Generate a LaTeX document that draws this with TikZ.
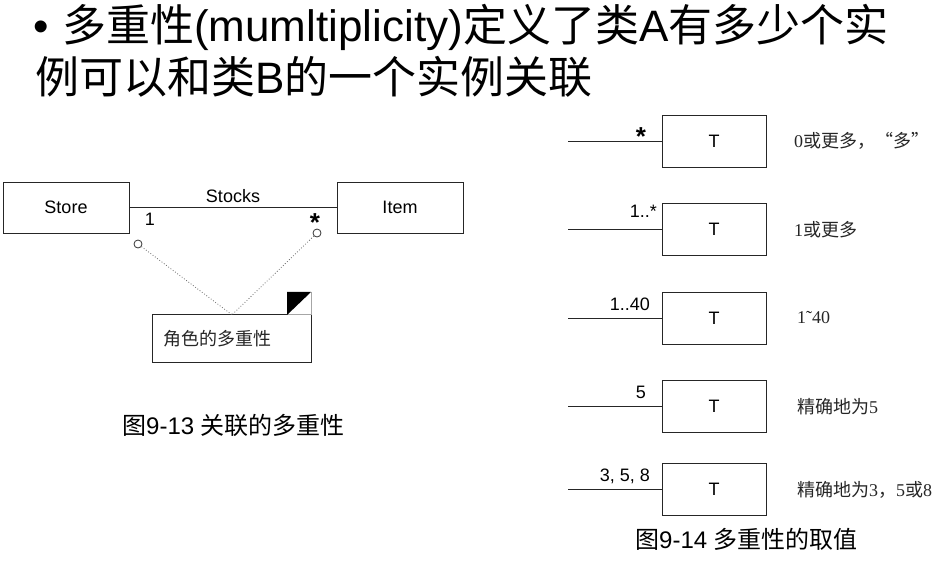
\documentclass[tikz,border=0pt]{standalone}
\usepackage{fontspec}
\setmainfont{Liberation Sans}
\newfontfamily\cjk{Noto Sans CJK SC}
\newfontfamily\serifdigits{Liberation Serif}
\usetikzlibrary{calc}
\newcommand\fsz[1]{\fontsize{#1}{#1}\selectfont}
\tikzset{
  umlbox/.style={draw=black!85, line width=1, inner sep=0, font=\fsz{18}},
  conn/.style={draw=black!85, line width=1},
  lbl/.style={inner sep=0, font=\fsz{18}},
  bigstar/.style={inner sep=0, font=\fsz{26}\bfseries},
  desc/.style={anchor=west, inner sep=0, font=\fsz{18}\serifdigits, text=black!85},
  figcaption/.style={anchor=west, inner sep=0, font=\fsz{24}},
  titletext/.style={anchor=base west, inner sep=0, font=\fsz{44}},
  tbox/.style={umlbox, minimum width=104, minimum height=52},
  rolecirc/.style={circle, draw=black!80, line width=0.8, minimum size=8, inner sep=0},
}
\begin{document}
\begin{tikzpicture}[x=1pt,y=-1pt]
\useasboundingbox (0,0) rectangle (951,563);
% title
\node[titletext] (bullet) at (33,41) {•};
\node[titletext] (t1) at (62,41) {{\cjk 多重性}(mumltiplicity){\cjk 定义了类}A{\cjk 有多少个实}};
\node[titletext] (t2) at (35,93) {{\cjk 例可以和类}B{\cjk 的一个实例关联}};

% left diagram
\node[umlbox, minimum width=126, minimum height=51] (store) at (66,207.5) {Store};
\node[umlbox, minimum width=126, minimum height=51] (item) at (400,207.5) {Item};
\draw[conn] (store) -- node[above=4, inner sep=0, font=\fsz{18}] (stocks) {Stocks} (item);
\node[lbl] (m1) at (150,219) {1};
\node[bigstar] (m2) at (315,223) {*};
\node[rolecirc] (c1) at (138,244) {};
\node[rolecirc] (c2) at (317,233) {};
\node[inner sep=0, minimum width=158, minimum height=47] (note) at (232,338.5) {};
\node[anchor=west, inner sep=0, font=\fsz{18}\cjk, text=black!85] (notetext) at (163,339) {角色的多重性};
\draw[black!85, line width=1] ($(note.north east)+(-24,0)$) -- (note.north west) -- (note.south west) -- (note.south east) -- ($(note.north east)+(0,-23)$);
\draw[black!35, line width=0.8] ($(note.north east)+(-24,0)$) -- (note.north east) -- ($(note.north east)+(0,-23)$);
\fill[black] ($(note.north east)+(-24,0)$) -- ($(note.north east)+(-24,-23)$) -- ($(note.north east)+(0,-23)$) -- cycle;
\draw[black!60, dotted, line width=0.8] (c1) -- (note.north);
\draw[black!60, dotted, line width=0.8] (c2) -- (note.north);
\node[figcaption] (cap1) at (122,425) {{\cjk 图}9-13 {\cjk 关联的多重性}};

% right diagram
\node[tbox] (T1) at (714,141) {T};
\node[tbox] (T2) at (714,229.5) {T};
\node[tbox] (T3) at (714,318) {T};
\node[tbox] (T4) at (714,406.5) {T};
\node[tbox] (T5) at (714,489.5) {T};
\coordinate (s1) at (568,141);
\coordinate (s2) at (568,229.5);
\coordinate (s3) at (568,318);
\coordinate (s4) at (568,406.5);
\coordinate (s5) at (568,489.5);
\draw[conn] (s1) -- (T1);
\draw[conn] (s2) -- (T2);
\draw[conn] (s3) -- (T3);
\draw[conn] (s4) -- (T4);
\draw[conn] (s5) -- (T5);
\node[bigstar] (r1) at (641,137) {*};
\node[lbl, anchor=base east] (r2) at (657,217) {1..*};
\node[lbl, anchor=base east] (r3) at (650,310) {1..40};
\node[lbl, anchor=base east] (r4) at (646,398) {5};
\node[lbl, anchor=base east] (r5) at (650,481) {3, 5, 8};
\node[desc] (d1) at (794,141) {0{\cjk 或更多，“多”}};
\node[desc] (d2) at (794,229.5) {1{\cjk 或更多}};
\node[desc] (d3) at (797,318) {1˜40};
\node[desc] (d4) at (797,407) {{\cjk 精确地为}5};
\node[desc] (d5) at (797,490) {{\cjk 精确地为}3{\cjk ，}5{\cjk 或}8};
\node[figcaption] (cap2) at (635,539) {{\cjk 图}9-14 {\cjk 多重性的取值}};
\end{tikzpicture}
\end{document}
